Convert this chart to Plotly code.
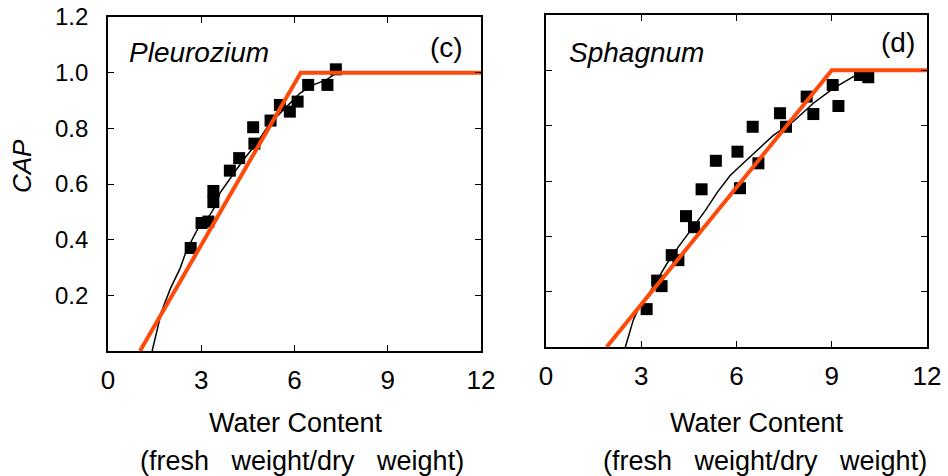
import plotly.graph_objects as go

# ---- data ----
x_ticks = [0, 3, 6, 9, 12]
y_ticks = [0.2, 0.4, 0.6, 0.8, 1.0, 1.2]
y_ticktext = ["0.2", "0.4", "0.6", "0.8", "1.0", "1.2"]

pleuro_x = [2.66, 3.01, 3.23, 3.39, 3.39, 3.92, 4.22, 4.67, 4.71, 5.23, 5.53, 5.85, 6.10, 6.44, 7.06, 7.33]
pleuro_y = [0.37, 0.46, 0.465, 0.535, 0.575, 0.648, 0.693, 0.804, 0.745, 0.828, 0.884, 0.860, 0.896, 0.956, 0.956, 1.012]

pleuro_curve_x = [1.42, 1.72, 2.01, 2.32, 2.53, 2.90, 3.28, 3.44, 3.60, 3.82, 4.35, 4.78, 5.21, 5.75, 6.17, 6.60, 7.03, 7.35, 12]
pleuro_curve_y = [0.0, 0.141, 0.225, 0.297, 0.363, 0.441, 0.489, 0.519, 0.567, 0.603, 0.686, 0.746, 0.818, 0.878, 0.926, 0.956, 0.974, 1.0, 1.0]

pleuro_fit_x = [1.03, 6.2, 12]
pleuro_fit_y = [0.0, 1.0, 1.0]

sph_x = [3.17, 3.50, 3.64, 3.96, 4.17, 4.41, 4.66, 4.90, 5.35, 6.03, 6.11, 6.51, 6.69, 7.37, 7.56, 8.21, 8.42, 9.03, 9.21, 9.89, 10.15]
sph_y = [0.137, 0.24, 0.22, 0.332, 0.314, 0.473, 0.433, 0.570, 0.673, 0.706, 0.574, 0.796, 0.664, 0.845, 0.796, 0.905, 0.842, 0.947, 0.871, 0.983, 0.975]

sph_curve_x = [2.5, 2.75, 2.96, 3.28, 3.54, 3.80, 4.17, 4.60, 5.00, 5.40, 5.80, 6.32, 6.75, 7.16, 7.79, 8.42, 9.05, 9.68, 10.2, 12]
sph_curve_y = [0.0, 0.098, 0.15, 0.20, 0.25, 0.30, 0.362, 0.43, 0.49, 0.56, 0.62, 0.676, 0.72, 0.765, 0.815, 0.881, 0.935, 0.977, 1.0, 1.0]

sph_fit_x = [1.91, 9.0, 12]
sph_fit_y = [0.0, 1.0, 1.0]

RED = "#ff4a0a"
FONT = "Liberation Sans"
W, H = 948, 476

fig = go.Figure()

for xs, ys, cx, cy, fx, fy, xa, ya in [
    (pleuro_x, pleuro_y, pleuro_curve_x, pleuro_curve_y, pleuro_fit_x, pleuro_fit_y, "x", "y"),
    (sph_x, sph_y, sph_curve_x, sph_curve_y, sph_fit_x, sph_fit_y, "x2", "y2"),
]:
    fig.add_trace(go.Scatter(x=xs, y=ys, mode="markers", xaxis=xa, yaxis=ya,
                             marker=dict(symbol="square", size=12, color="black"),
                             showlegend=False, cliponaxis=True))
    fig.add_trace(go.Scatter(x=cx, y=cy, mode="lines", xaxis=xa, yaxis=ya,
                             line=dict(color="black", width=1.5), showlegend=False))
    fig.add_trace(go.Scatter(x=fx, y=fy, mode="lines", xaxis=xa, yaxis=ya,
                             line=dict(color=RED, width=4), showlegend=False))

common_x = dict(range=[0, 12], tickvals=x_ticks, ticktext=[str(v) for v in x_ticks],
                ticks="inside", ticklen=6, tickwidth=1, tickcolor="black",
                showline=True, linecolor="black", linewidth=1.8, mirror="ticks",
                showgrid=False, zeroline=False, automargin=False,
                tickfont=dict(family=FONT, size=26, color="black"), ticklabelstandoff=5)
common_y = dict(range=[0, 1.2], tickvals=y_ticks, ticktext=y_ticktext,
                ticks="inside", ticklen=6, tickwidth=1, tickcolor="black",
                showline=True, linecolor="black", linewidth=1.8, mirror="ticks",
                showgrid=False, zeroline=False, automargin=False,
                tickfont=dict(family=FONT, size=24, color="black"))

fig.update_layout(
    width=W, height=H,
    margin=dict(l=0, r=0, t=0, b=0),
    paper_bgcolor="white", plot_bgcolor="white",
    xaxis=dict(domain=[108 / W, 481 / W], anchor="y", **common_x),
    yaxis=dict(domain=[1 - 351 / H, 1 - 17 / H], anchor="x", ticklabelstandoff=13, **common_y),
    xaxis2=dict(domain=[546 / W, 927 / W], anchor="y2", **common_x),
    yaxis2=dict(domain=[1 - 347 / H, 1 - 15 / H], anchor="x2", showticklabels=False, **common_y),
)

ann = []
tf = dict(family=FONT, size=28, color="black")
ann.append(dict(text="<i>Pleurozium</i>", x=0.6, y=1.074, xref="x", yref="y",
                xanchor="left", yanchor="middle", showarrow=False, font=tf))
ann.append(dict(text="(c)", x=10.9, y=1.092, xref="x", yref="y",
                xanchor="center", yanchor="middle", showarrow=False, font=tf))
ann.append(dict(text="<i>Sphagnum</i>", x=0.66, y=1.066, xref="x2", yref="y2",
                xanchor="left", yanchor="middle", showarrow=False, font=tf))
ann.append(dict(text="(d)", x=11.09, y=1.099, xref="x2", yref="y2",
                xanchor="center", yanchor="middle", showarrow=False, font=tf))
ann.append(dict(text="<i>CAP</i>", x=22 / W, y=1 - 166 / H, xref="paper", yref="paper",
                xanchor="center", yanchor="middle", textangle=-90, showarrow=False,
                font=dict(family=FONT, size=26, color="black")))
sub = "(fresh\u00a0\u00a0 weight/dry\u00a0\u00a0 weight)"
for cx1, cx2 in [(296, 302), (757, 765)]:
    ann.append(dict(text="Water Content", x=cx1 / W, y=1 - 423 / H, xref="paper", yref="paper",
                    xanchor="center", yanchor="middle", showarrow=False,
                    font=dict(family=FONT, size=27, color="black")))
    ann.append(dict(text=sub, x=cx2 / W, y=1 - 461 / H, xref="paper", yref="paper",
                    xanchor="center", yanchor="middle", showarrow=False,
                    font=dict(family=FONT, size=27, color="black")))
fig.update_layout(annotations=ann)

fig.write_html("out.html", config={"displayModeBar": False},
               post_script="document.body.style.margin='0';document.body.style.overflow='hidden';")
